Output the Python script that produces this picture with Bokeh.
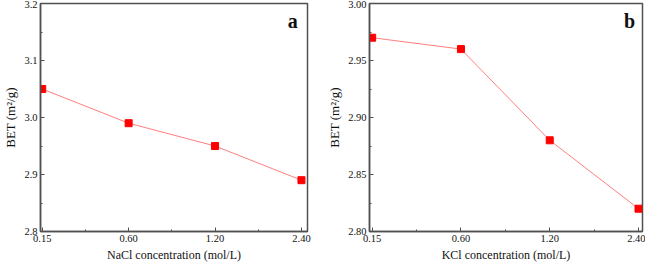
from bokeh.plotting import figure
from bokeh.layouts import row
from bokeh.models import FixedTicker, Range1d, Label
from bokeh.embed import file_html
from bokeh.resources import INLINE

conc_labels = ["0.15", "0.60", "1.20", "2.40"]
nacl_bet = [3.05, 2.99, 2.95, 2.89]
kcl_bet = [2.97, 2.96, 2.88, 2.82]

FONT = "Liberation Serif"
FRAME = "#505050"


def make(vals, ylo, yhi, ystep, xlab, letter, w, bl, br, ylabfmt, xlo, xhi):
    p = figure(width=w, height=264, output_backend="svg", toolbar_location=None,
               x_range=Range1d(xlo, xhi), y_range=Range1d(ylo, yhi),
               min_border_left=bl, min_border_right=br, min_border_top=3, min_border_bottom=4)
    xs = list(range(len(vals)))
    p.line(xs, vals, line_color="#ff7f7f", line_width=1)
    p.scatter(xs, vals, marker="square", size=7, fill_color="#ff0000", line_color="#ff0000")
    p.xgrid.visible = False
    p.ygrid.visible = False
    p.outline_line_color = FRAME
    p.outline_line_width = 1.5
    n = int(round((yhi - ylo) / ystep))
    yt = [round(ylo + i * ystep, 4) for i in range(n + 1)]
    ymt = [round(ylo + (i + 0.5) * ystep, 4) for i in range(n)]
    p.yaxis.ticker = FixedTicker(ticks=yt, minor_ticks=ymt)
    p.yaxis.major_label_overrides = {v: (ylabfmt % v) for v in yt}
    p.xaxis.ticker = FixedTicker(ticks=xs, minor_ticks=[0.5, 1.5, 2.5])
    p.xaxis.major_label_overrides = {i: s for i, s in enumerate(conc_labels)}
    for ax in (p.xaxis, p.yaxis):
        ax.axis_line_color = FRAME
        ax.axis_line_width = 1.5
        ax.major_tick_line_color = FRAME
        ax.minor_tick_line_color = FRAME
        ax.major_tick_in = 4
        ax.major_tick_out = 0
        ax.minor_tick_in = 2
        ax.minor_tick_out = 0
        ax.major_label_text_font = FONT
        ax.major_label_text_font_size = "10.5px"
        ax.major_label_text_color = "#111111"
        ax.axis_label_text_font = FONT
        ax.axis_label_text_font_style = "normal"
        ax.axis_label_text_color = "#111111"
        ax.major_label_standoff = 3
        ax.axis_label_standoff = 3
    p.xaxis.axis_label_text_font_size = "12px"
    p.yaxis.axis_label_text_font_size = "13px"
    p.xaxis.axis_label = xlab
    p.yaxis.axis_label = "BET (m²/g)"
    lab = Label(x=2.9, y=yhi - (yhi - ylo) * 0.075, text=letter, text_font=FONT,
                text_font_size="20px", text_font_style="bold", text_align="center",
                text_baseline="middle", text_color="#111111")
    p.add_layout(lab)
    return p


pa = make(nacl_bet, 2.8, 3.2, 0.1, "NaCl concentration (mol/L)", "a", 323, 25, 16, "%.1f", -0.02, 3.07)
pb = make(kcl_bet, 2.8, 3.0, 0.05, "KCl concentration (mol/L)", "b", 322, 46, 3, "%.2f", -0.03, 3.045)
layout = row(pa, pb)

open("out.html", "w").write(file_html(layout, INLINE))
